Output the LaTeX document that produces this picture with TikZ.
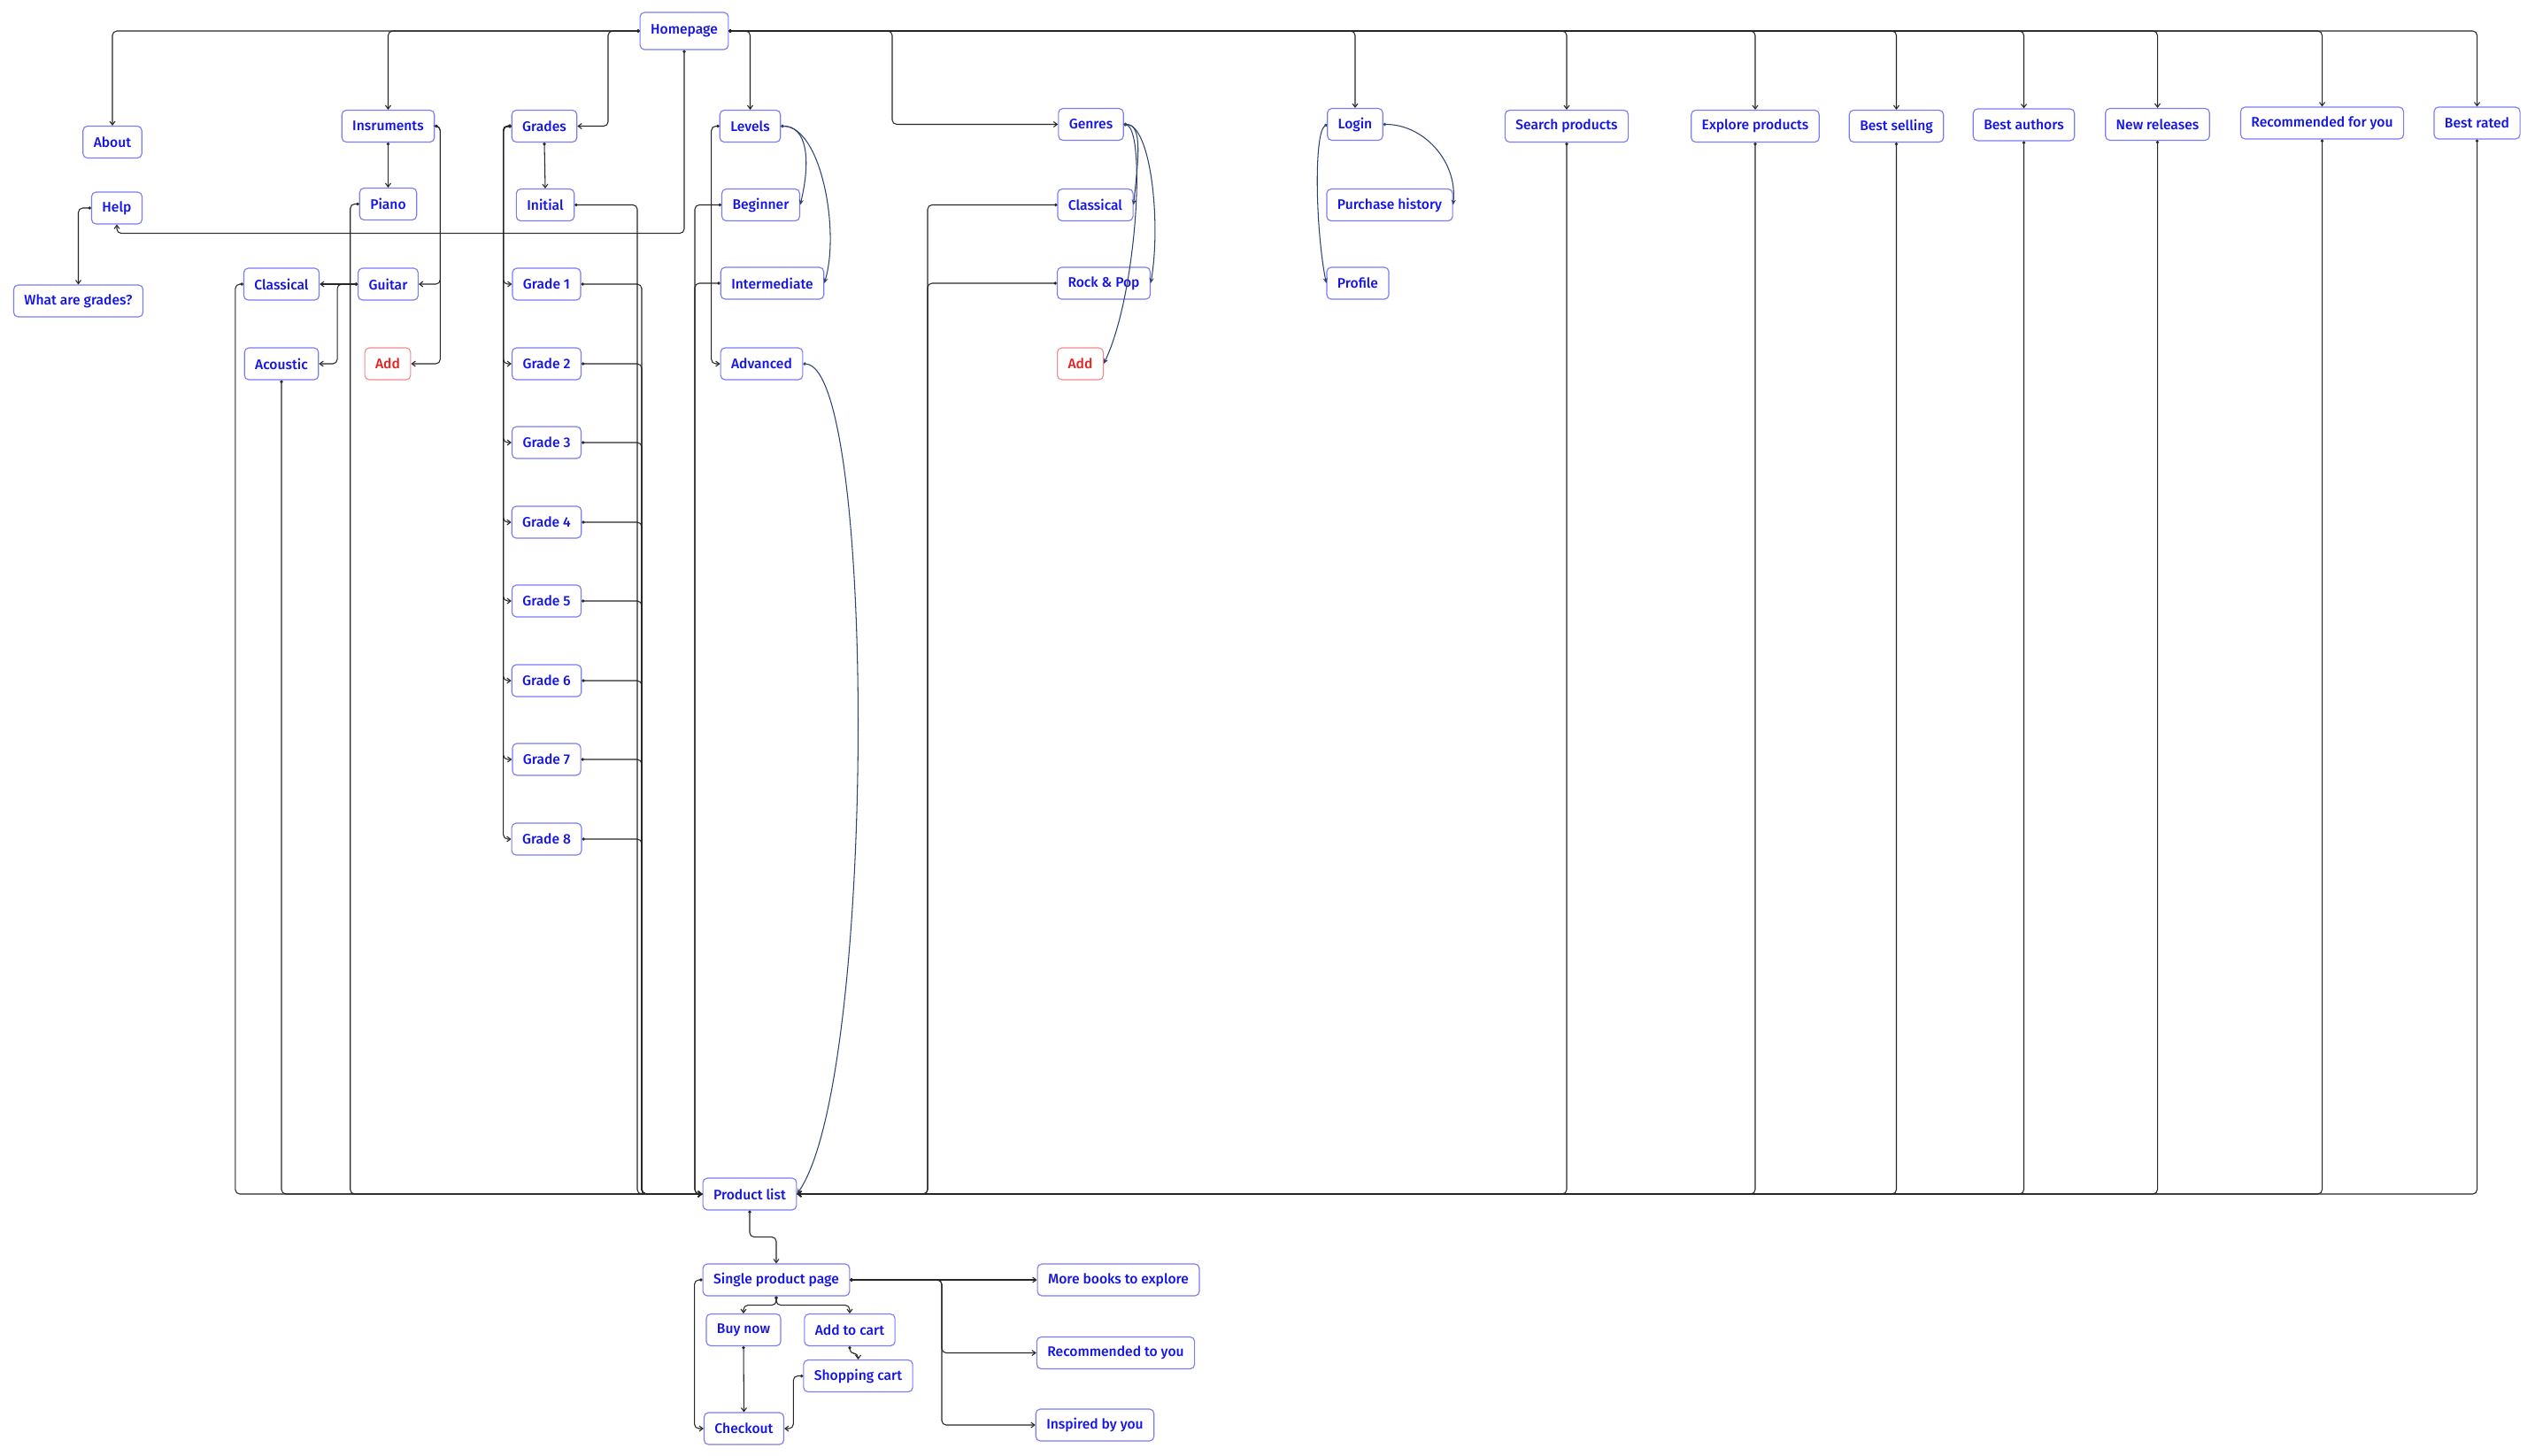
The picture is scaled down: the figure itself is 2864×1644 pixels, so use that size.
\documentclass[tikz,border=0pt]{standalone}
\usepackage{fontspec}
\setsansfont{Fira Sans}[BoldFont={Fira Sans Medium}]
\usepackage{tikz}
\usetikzlibrary{arrows.meta}
\definecolor{boxline}{HTML}{7B7BF5}
\definecolor{boxtext}{HTML}{1414E6}
\definecolor{addline}{HTML}{F28C8C}
\definecolor{addtext}{HTML}{E52222}
\definecolor{navy}{HTML}{2E4272}

\begin{document}
\begin{tikzpicture}[
x=0.02cm, y=-0.02cm,
font=\bfseries\sffamily\fontsize{8.9}{10}\selectfont,
box/.style={draw=boxline, fill=white, text=boxtext, rounded corners=0.1cm, line width=0.65pt, minimum height=0.72cm, inner xsep=0.24cm},
addbox/.style={box, draw=addline, text=addtext},
link/.style={{Circle[open,length=1.9pt]}-{Straight Barb[length=2.3pt,width=3.4pt]}, draw=black!85, line width=0.6pt, rounded corners=0.1cm},
curvy/.style={{Circle[open,length=1.9pt]}-{Stealth[length=3.4pt,width=3pt]}, draw=navy, line width=0.6pt},
scale=1]
    \useasboundingbox (0,0) rectangle (2864,1644);

    % Top row
    \node[box, minimum height=0.84cm] (home) at (773,35) {Homepage};
    \node[box] (about) at (127,160.5) {About};
    \node[box] (instr) at (438.5,142.5) {Insruments};
    \node[box] (grades) at (615,142.5) {Grades};
    \node[box] (levels) at (847.5,142.5) {Levels};
    \node[box] (genres) at (1232.5,140.5) {Genres};
    \node[box] (login) at (1531,140.5) {Login};
    \node[box] (search) at (1770,142.5) {Search products};
    \node[box] (explore) at (1983,142.5) {Explore products};
    \node[box] (selling) at (2142.5,142.5) {Best selling};
    \node[box] (authors) at (2286.5,141) {Best authors};
    \node[box] (releases) at (2437.5,140.5) {New releases};
    \node[box] (recom) at (2623.5,139) {Recommended for you};
    \node[box] (rated) at (2798.5,139) {Best rated};

    % Sub pages
    \node[box] (help) at (132,235) {Help};
    \node[box] (piano) at (438.5,230.5) {Piano};
    \node[box] (initial) at (616,231.5) {Initial};
    \node[box] (beginner) at (859.5,231.5) {Beginner};
    \node[box] (gclass) at (1237.5,231.5) {Classical};
    \node[box] (history) at (1570,231.5) {Purchase history};
    \node[box] (wag) at (88.5,340) {What are grades?};
    \node[box] (iclass) at (318,321) {Classical};
    \node[box] (guitar) at (438.5,321) {Guitar};
    \node[box] (inter) at (872.5,320) {Intermediate};
    \node[box] (rock) at (1247,320) {Rock \& Pop};
    \node[box] (profile) at (1534,320) {Profile};
    \node[box] (acoustic) at (318,411) {Acoustic};
    \node[addbox] (iadd) at (438,411) {Add};
    \node[box] (advanced) at (860.5,411) {Advanced};
    \node[addbox] (gadd) at (1220.5,411) {Add};

    % Grades column
    \node[box] (g1) at (617.5,321) {Grade 1};
    \node[box] (g2) at (617.5,411) {Grade 2};
    \node[box] (g3) at (617.5,500) {Grade 3};
    \node[box] (g4) at (617.5,590) {Grade 4};
    \node[box] (g5) at (617.5,679) {Grade 5};
    \node[box] (g6) at (617.5,769) {Grade 6};
    \node[box] (g7) at (617.5,858) {Grade 7};
    \node[box] (g8) at (617.5,948) {Grade 8};

    % Shop
    \node[box] (plist) at (847,1349) {Product list};
    \node[box] (single) at (877,1446) {Single product page};
    \node[box] (buy) at (840,1502.5) {Buy now};
    \node[box] (tocart) at (960,1502.5) {Add to cart};
    \node[box] (cart) at (969.5,1554.5) {Shopping cart};
    \node[box] (checkout) at (840.5,1614) {Checkout};
    \node[box] (more) at (1263.5,1446) {More books to explore};
    \node[box] (rtoyou) at (1260.5,1528.5) {Recommended to you};
    \node[box] (inspired) at (1237,1610) {Inspired by you};

    % From the homepage
    \draw[link] (home.west) -| (about.north);
    \draw[link] (home.west) -| (instr.north);
    \draw[link] (home.west) -- (home.west -| 687,0) |- (grades.east);
    \draw[link] (home.east) -| (levels.north);
    \draw[link] (home.east) -- (home.east -| 1008,0) |- (genres.west);
    \draw[link] (home.east) -| (login.north);
    \draw[link] (home.east) -| (search.north);
    \draw[link] (home.east) -| (explore.north);
    \draw[link] (home.east) -| (selling.north);
    \draw[link] (home.east) -| (authors.north);
    \draw[link] (home.east) -| (releases.north);
    \draw[link] (home.east) -| (recom.north);
    \draw[link] (home.east) -| (rated.north);
    \draw[link] (home.south) -- ++(0,207) -| (help.south);
    \draw[link] (help.west) -| (wag.north);

    % Instruments
    \draw[link] (instr.south) -- (piano.north);
    \draw[link] (instr.east) -- ++(6,0) |- (guitar.east);
    \draw[link] (instr.east) -- ++(6,0) |- (iadd.east);
    \draw[link] (guitar.west) -- (iclass.east);
    \draw[link] (guitar.west) -- ++(-23,0) |- (acoustic.east);

    % Grades and levels
    \draw[link] (grades.south) -- (initial.north);
    \draw[link] (grades.west) -- ++(-9,0) |- (g1.west);
    \draw[link] (grades.west) -- ++(-9,0) |- (g2.west);
    \draw[link] (grades.west) -- ++(-9,0) |- (g3.west);
    \draw[link] (grades.west) -- ++(-9,0) |- (g4.west);
    \draw[link] (grades.west) -- ++(-9,0) |- (g5.west);
    \draw[link] (grades.west) -- ++(-9,0) |- (g6.west);
    \draw[link] (grades.west) -- ++(-9,0) |- (g7.west);
    \draw[link] (grades.west) -- ++(-9,0) |- (g8.west);
    \draw[link] (levels.west) -- ++(-9,0) |- (advanced.west);
    \draw[curvy] (levels.east) .. controls +(30,0) and +(12,-50) .. (beginner.east);
    \draw[curvy] (levels.east) .. controls +(45,0) and +(18,-60) .. (inter.east);

    % Genres and login
    \draw[curvy] (genres.east) .. controls +(22,0) and +(5,-50) .. (gclass.east);
    \draw[curvy] (genres.east) .. controls +(30,0) and +(12,-70) .. (rock.east);
    \draw[curvy] (genres.east) .. controls +(25,5) and +(38,-80) .. (gadd.east);
    \draw[curvy] (login.east) .. controls +(45,0) and +(5,-50) .. (history.east);
    \draw[curvy] (login.west) .. controls +(-15,10) and +(-12,-60) .. (profile.west);

    % Into the product list
    \draw[link] (iclass.west) -- ++(-9,0) |- (plist.west);
    \draw[link] (acoustic.south) |- (plist.west);
    \draw[link] (piano.west) -- ++(-10,0) |- (plist.west);
    \draw[link] (initial.east) -- (initial.east -| 720,0) |- (plist.west);
    \draw[link] (g1.east) -- (g1.east -| 725,0) |- (plist.west);
    \draw[link] (g2.east) -- (g2.east -| 725,0) |- (plist.west);
    \draw[link] (g3.east) -- (g3.east -| 725,0) |- (plist.west);
    \draw[link] (g4.east) -- (g4.east -| 725,0) |- (plist.west);
    \draw[link] (g5.east) -- (g5.east -| 725,0) |- (plist.west);
    \draw[link] (g6.east) -- (g6.east -| 725,0) |- (plist.west);
    \draw[link] (g7.east) -- (g7.east -| 725,0) |- (plist.west);
    \draw[link] (g8.east) -- (g8.east -| 725,0) |- (plist.west);
    \draw[link] (beginner.west) -- (beginner.west -| 785,0) |- (plist.west);
    \draw[link] (inter.west) -- (inter.west -| 785,0) |- (plist.west);
    \draw[curvy] (advanced.east) .. controls +(83,4) and +(90,-129) .. (plist.east);
    \draw[link] (gclass.west) -- (gclass.west -| 1048,0) |- (plist.east);
    \draw[link] (rock.west) -- (rock.west -| 1048,0) |- (plist.east);
    \draw[link] (search.south) |- (plist.east);
    \draw[link] (explore.south) |- (plist.east);
    \draw[link] (selling.south) |- (plist.east);
    \draw[link] (authors.south) |- (plist.east);
    \draw[link] (releases.south) |- (plist.east);
    \draw[link] (recom.south) |- (plist.east);
    \draw[link] (rated.south) |- (plist.east);

    % Product pages
    \draw[link] (plist.south) -- ++(0,30) -| (single.north);
    \draw[link] (single.east) -- (more.west);
    \draw[link] (single.east) -- (single.east -| 1064,0) |- (rtoyou.west);
    \draw[link] (single.east) -- (single.east -| 1064,0) |- (inspired.west);
    \draw[link] (single.south) -- ++(0,10) -| (buy.north);
    \draw[link] (single.south) -- ++(0,10) -| (tocart.north);
    \draw[link] (tocart.south) -- ++(0,8) -| (cart.north);
    \draw[link] (buy.south) -- (checkout.north);
    \draw[link] (cart.west) -- ++(-11,0) |- (checkout.east);
    \draw[link] (single.west) -- ++(-9,0) |- (checkout.west);
\end{tikzpicture}
\end{document}
